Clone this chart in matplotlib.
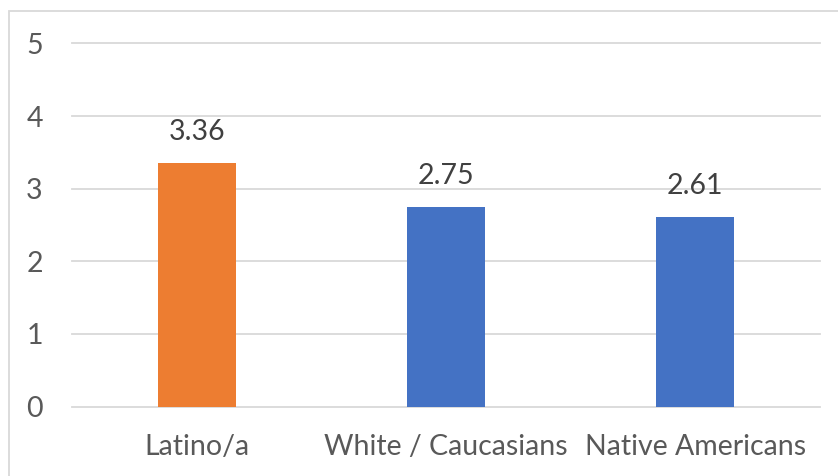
import matplotlib.pyplot as plt
from matplotlib.patches import Rectangle

groups = ["Latino/a", "White / Caucasians", "Native Americans"]
scores = [3.36, 2.75, 2.61]
bar_colors = ["#ED7D31", "#4472C4", "#4472C4"]
y_ticks = [0, 1, 2, 3, 4, 5]

plt.rcParams["font.family"] = ["Lato", "DejaVu Sans"]

fig = plt.figure(figsize=(8.38, 4.76), dpi=100)
ax = fig.add_axes([72 / 838, 69.5 / 476, 748 / 838, 363 / 476])

# outer chart frame (runs off the right and bottom edges)
fig.patches.append(Rectangle((9 / 838, -0.1), 1.2, (476 - 11) / 476 + 0.1,
                             transform=fig.transFigure, fill=False,
                             edgecolor="#d9d9d9", linewidth=1.3))

x = range(len(groups))
bars = ax.bar(x, scores, width=0.313, color=bar_colors, zorder=3)

for rect, val in zip(bars, scores):
    ax.annotate(f"{val:.2f}", (rect.get_x() + rect.get_width() / 2, val),
                xytext=(0, 13), textcoords="offset points",
                ha="center", va="bottom", fontsize=20.5, color="#404040")

ax.set_xlim(-0.5, 2.5)
ax.set_ylim(0, 5)
ax.set_yticks(y_ticks)
ax.set_xticks(list(x))
ax.set_xticklabels(groups)
ax.yaxis.grid(True, color="#d9d9d9", linewidth=1.3, zorder=0)
for s in ax.spines.values():
    s.set_visible(False)
ax.tick_params(axis="both", length=0, labelsize=20.5, labelcolor="#595959")
ax.tick_params(axis="y", pad=21)
ax.tick_params(axis="x", pad=20)
for gl in ax.get_ygridlines():
    gl.set_clip_on(False)

fig.savefig("out.png", dpi=100)
